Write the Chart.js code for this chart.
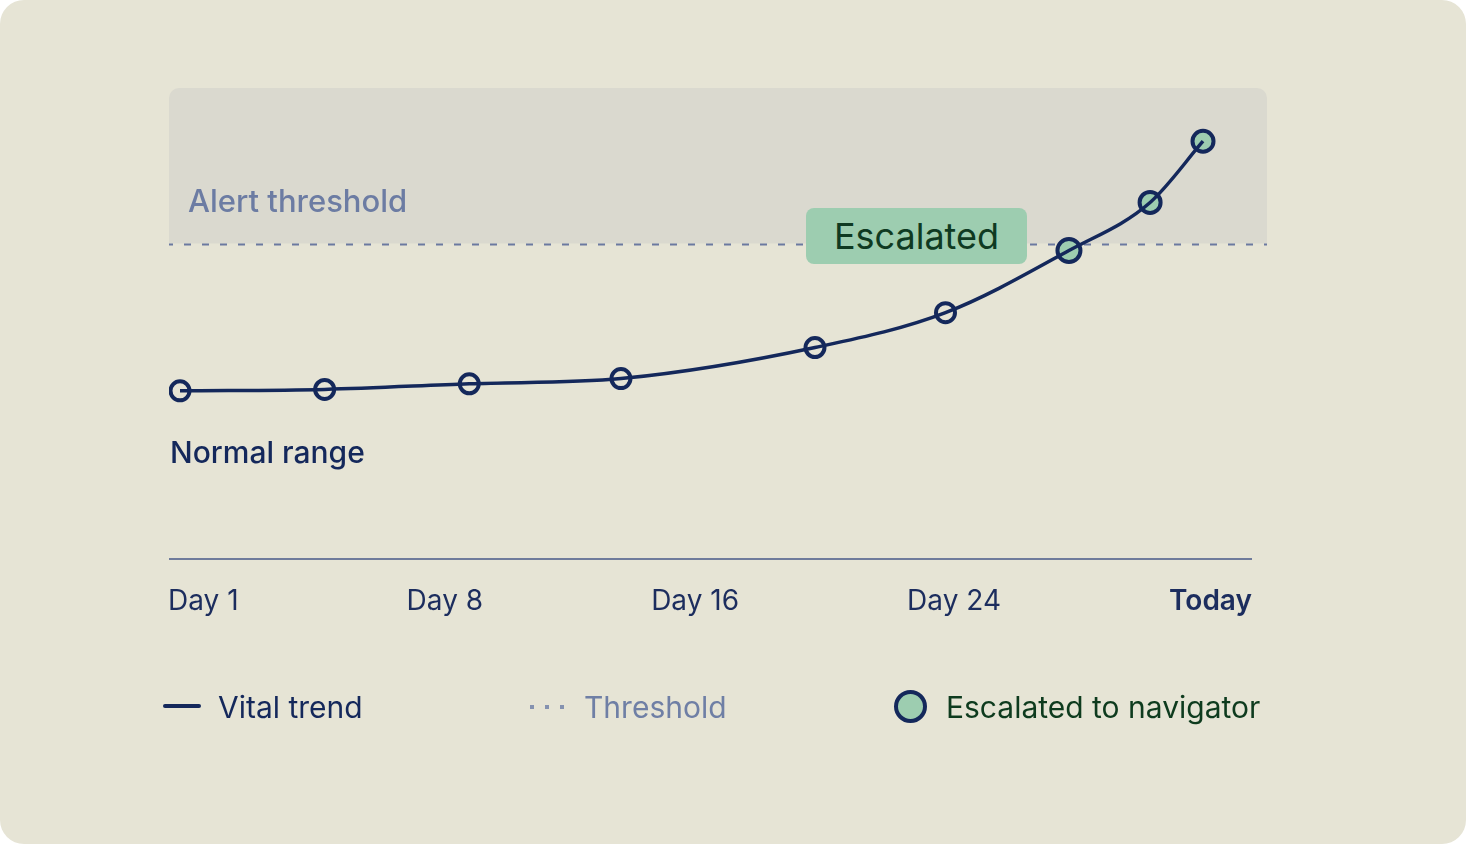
<!DOCTYPE html>
<html>
<head>
<meta charset="utf-8">
<script src="https://cdn.jsdelivr.net/npm/chart.js@4.4.1/dist/chart.umd.min.js"></script>
<style>
  html, body { margin: 0; padding: 0; background: #ffffff; }
  body { width: 1466px; height: 844px; overflow: hidden; font-family: Inter, "Noto Sans", sans-serif; }
  #card { position: absolute; left: 0; top: 0; width: 1466px; height: 844px; background: #e6e4d5; border-radius: 24px; overflow: hidden; }
  #chart { position: absolute; left: 0; top: 0; width: 1466px; height: 844px; }
  .lbl { position: absolute; line-height: 1; white-space: nowrap; }
  #ticks { position: absolute; left: 168px; top: 586px; width: 1084px; display: flex; justify-content: space-between; font-size: 28px; line-height: 1; color: #1c2d5e; }
  #ticks .today { font-weight: 600; }
  #pill { position: absolute; left: 806px; top: 208px; width: 221px; height: 56px; border-radius: 8px; background: #9dcdb0;
          display: flex; align-items: center; justify-content: center; font-size: 36px; color: #0f3a22; }
  .legend { position: absolute; top: 692px; font-size: 30px; line-height: 1; white-space: nowrap; }
  .swatch { position: absolute; }
</style>
</head>
<body>
<div id="card">
  <canvas id="chart" width="1466" height="844"></canvas>
  <div class="lbl" style="left:188px; top:185px; font-size:31px; font-weight:500; color:#6c7ca3;">Alert threshold</div>
  <div class="lbl" style="left:170px; top:437px; font-size:30px; font-weight:500; color:#14285b;">Normal range</div>
  <div id="pill">Escalated</div>
  <div id="ticks"></div>

  <div class="swatch" style="left:163px; top:704px; width:38px; height:4px; background:#14285b; border-radius:2px;"></div>
  <div class="legend" style="left:218px; color:#14285b;">Vital trend</div>
  <div class="swatch" style="left:530px; top:705px; width:4px; height:4px; background:#8592b0;"></div>
  <div class="swatch" style="left:545px; top:705px; width:4px; height:4px; background:#8592b0;"></div>
  <div class="swatch" style="left:560px; top:705px; width:4px; height:4px; background:#8592b0;"></div>
  <div class="legend" style="left:584px; color:#6f7fa5;">Threshold</div>
  <div class="swatch" style="left:894px; top:690px; width:25px; height:25px; border:4px solid #14285b; border-radius:50%; background:#9dcdb0;"></div>
  <div class="legend" style="left:946px; color:#0e3b1e;">Escalated to navigator</div>
</div>
<script>
// days since start of monitoring, and the vital reading (0-100 scale)
const days = [1, 5.1, 9.2, 13.5, 19, 22.7, 26.2, 28.5, 30]
const vitals = [35.7, 36, 37.2, 38.3, 44.9, 52.3, 65.5, 75.7, 88.7]
const escalated = [false, false, false, false, false, false, true, true, true]
const threshold = 67
const bandTop = 100
const tickLabels = ['Day 1', 'Day 8', 'Day 16', 'Day 24', 'Today']

const navy = '#14285b'
const green = '#9dcdb0'

// tick row under the axis
const ticks = document.getElementById('ticks')
tickLabels.forEach((t, i) => {
  const s = document.createElement('span')
  s.textContent = t
  if (i === tickLabels.length - 1) s.className = 'today'
  ticks.appendChild(s)
})

const points = days.map((d, i) => ({ x: d, y: vitals[i] }))

// band above the threshold, dashed threshold line and the baseline axis
const backdrop = {
  id: 'backdrop',
  beforeDatasetsDraw(chart) {
    const { ctx, chartArea, scales } = chart
    const yT = scales.y.getPixelForValue(threshold)
    const yTop = scales.y.getPixelForValue(bandTop)
    const yBot = scales.y.getPixelForValue(0)
    ctx.save()
    ctx.fillStyle = '#dad9cf'
    ctx.beginPath()
    ctx.roundRect(chartArea.left, yTop, chartArea.right - chartArea.left, yT - yTop, [10, 10, 0, 0])
    ctx.fill()

    ctx.strokeStyle = '#6b79a0'
    ctx.lineWidth = 2
    ctx.setLineDash([7, 11])
    ctx.lineDashOffset = 3
    ctx.beginPath()
    ctx.moveTo(chartArea.left, yT + 1)
    ctx.lineTo(chartArea.right, yT + 1)
    ctx.stroke()

    ctx.setLineDash([])
    ctx.strokeStyle = '#6f7b9b'
    ctx.lineWidth = 2
    ctx.beginPath()
    ctx.moveTo(chartArea.left, yBot)
    ctx.lineTo(chartArea.right - 15, yBot)
    ctx.stroke()
    ctx.restore()
  }
}

new Chart(document.getElementById('chart'), {
  type: 'scatter',
  data: {
    datasets: [
      {
        // the trend line, drawn on top of the markers
        data: points,
        showLine: true,
        borderColor: navy,
        borderWidth: 3.5,
        pointRadius: 0,
        cubicInterpolationMode: 'monotone',
        order: 0
      },
      {
        data: points,
        showLine: false,
        pointRadius: escalated.map((e, i) => e ? (i === 6 ? 11.5 : 10.5) : 9.5),
        pointBorderWidth: 4,
        pointBorderColor: navy,
        pointBackgroundColor: escalated.map(e => e ? green : 'rgba(0,0,0,0)'),
        order: 1
      }
    ]
  },
  options: {
    responsive: false,
    animation: false,
    layout: { padding: { left: 169, right: 199, top: 88, bottom: 285 } },
    scales: {
      x: { type: 'linear', min: 0.688, max: 31.814, display: false },
      y: { type: 'linear', min: 0, max: 100, display: false }
    },
    plugins: { legend: { display: false }, tooltip: { enabled: false } }
  },
  plugins: [backdrop]
})
</script>
</body>
</html>
